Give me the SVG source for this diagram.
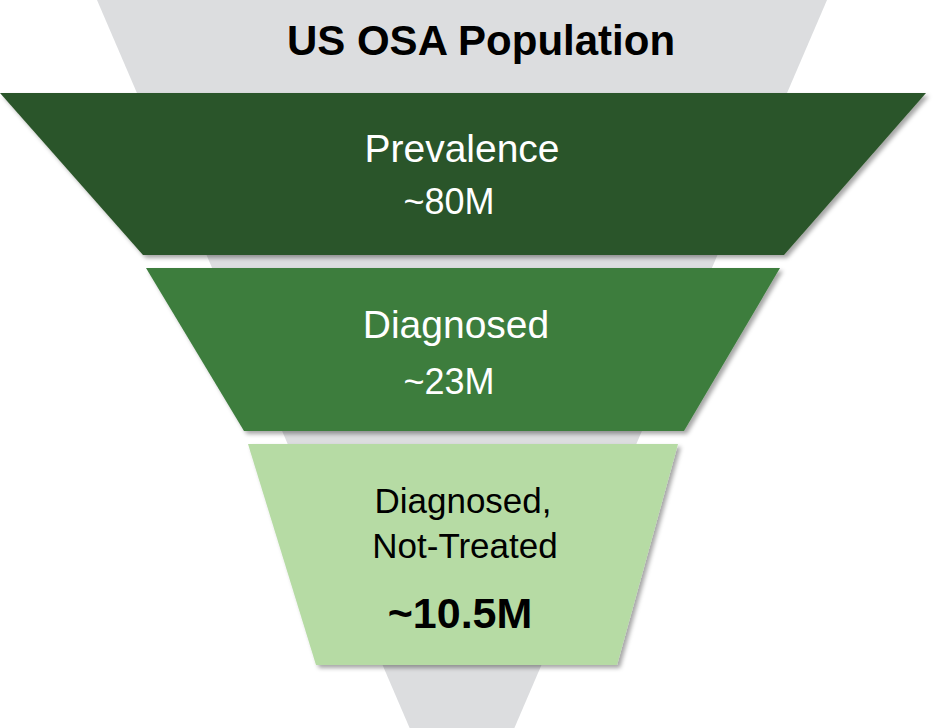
<svg xmlns="http://www.w3.org/2000/svg" width="937" height="728" viewBox="0 0 937 728">
  <defs>
    <filter id="shadow" x="-10%" y="-10%" width="125%" height="130%">
      <feDropShadow dx="3" dy="3" stdDeviation="2" flood-color="#000" flood-opacity="0.35"/>
    </filter>
    <style>
      .band { filter: url(#shadow); }
      .light { font-family: "Liberation Sans", Arial, sans-serif; fill: #ffffff; text-anchor: middle; }
      .dark { font-family: "Liberation Sans", Arial, sans-serif; fill: #000000; text-anchor: middle; }
    </style>
  </defs>
  <rect x="0" y="0" width="937" height="728" fill="#ffffff"/>
  <g id="background">
    <polygon points="97,0 827,0 462,850" fill="#dcdddf"/>
    <text class="dark" x="481" y="55" font-size="42" font-weight="bold">US OSA Population</text>
  </g>
  <g id="prevalence">
    <polygon class="band" points="0,93 926,93 784,255 143,255" fill="#2c5529"/>
    <text class="light" x="462" y="162" font-size="39">Prevalence</text>
    <text class="light" x="449" y="214" font-size="36">~80M</text>
  </g>
  <g id="diagnosed">
    <polygon class="band" points="146,268 780,268 684,431 244,431" fill="#3c7d3c"/>
    <text class="light" x="456" y="338" font-size="39">Diagnosed</text>
    <text class="light" x="449" y="394" font-size="36">~23M</text>
  </g>
  <g id="not-treated">
    <polygon class="band" points="248,444 678,444 617,665 316,665" fill="#b6dba4"/>
    <text class="dark" x="463" y="513" font-size="35">Diagnosed,</text>
    <text class="dark" x="465" y="558" font-size="35">Not-Treated</text>
    <text class="dark" x="460" y="628" font-size="43" font-weight="bold">~10.5M</text>
  </g>
  <g id="connectors"/>
</svg>
